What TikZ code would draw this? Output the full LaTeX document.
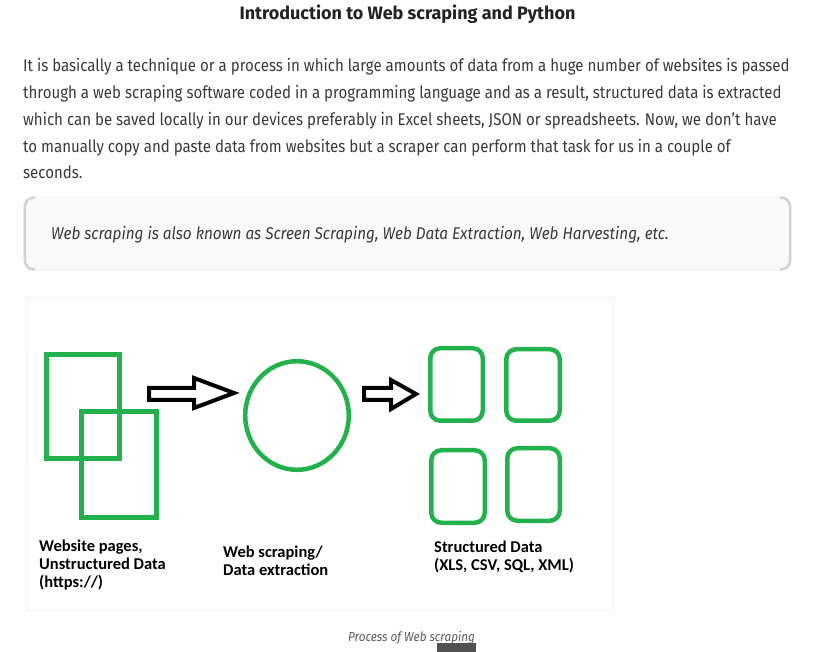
\documentclass[tikz,border=0pt]{standalone}
\usepackage{fontspec}
\setmainfont{Fira Sans}
\newfontfamily\bodyfont[FakeStretch=0.885]{Fira Sans}
\newfontfamily\quotefont[FakeStretch=0.9]{Fira Sans}
\newfontfamily\titlefont{Fira Sans}
\newfontfamily\labelfont{Carlito}
\definecolor{paintgreen}{HTML}{22B14C}
\definecolor{bodytext}{HTML}{3A3A3A}
\definecolor{titletext}{HTML}{222222}
\definecolor{quotefill}{HTML}{F9F9F9}
\definecolor{quoteborder}{HTML}{D2D2D2}
\definecolor{captiongray}{HTML}{5A5A5A}
\tikzset{
  bodyline/.style={anchor=base west, inner sep=0pt, text=bodytext, font=\bodyfont\fontsize{17}{20}\selectfont},
  greenbox/.style={draw=paintgreen, line width=4.5pt, inner sep=0pt},
  blockarrow/.style={draw=black, line width=4pt, line join=miter, miter limit=10, fill=white},
  lbl/.style={anchor=base west, inner sep=0pt, align=left, font=\labelfont\bfseries\fontsize{16.5}{18}\selectfont}
}
\begin{document}
\begin{tikzpicture}[x=1pt,y=-1pt]
\useasboundingbox (0,0) rectangle (820,652);
\fill[white] (0,0) rectangle (820,652);
% title
\node[anchor=base, inner sep=0pt, text=titletext, font=\titlefont\bfseries\fontsize{18}{20}\selectfont] (title) at (407.5,19.3) {Introduction to Web scraping and Python};
% paragraph
\node[bodyline] (l1) at (23,71.7) {It is basically a technique or a process in which large amounts of data from a huge number of websites is passed};
\node[bodyline] (l2) at (23,98.6) {through a web scraping software coded in a programming language and as a result, structured data is extracted};
\node[bodyline] (l3) at (23,125.4) {which can be saved locally in our devices preferably in Excel sheets, JSON or spreadsheets. Now, we don’t have};
\node[bodyline] (l4) at (23,152.2) {to manually copy and paste data from websites but a scraper can perform that task for us in a couple of};
\node[bodyline] (l5) at (23,179) {seconds.};
% blockquote
\draw[fill=quotefill, draw=black!7, rounded corners=12pt] (23.5,196.5) rectangle (791.5,270.5);
\draw[quoteborder, line width=2.5pt] (35,197.5) .. controls (28,197.5) and (24.8,201) .. (24.8,209) -- (24.8,258) .. controls (24.8,266) and (28,269.5) .. (35,269.5);
\draw[quoteborder, line width=2.5pt] (780,197.5) .. controls (787,197.5) and (790.2,201) .. (790.2,209) -- (790.2,258) .. controls (790.2,266) and (787,269.5) .. (780,269.5);
\node[anchor=base west, inner sep=0pt, text=bodytext, font=\quotefont\itshape\fontsize{17}{20}\selectfont] (quote) at (51,240) {Web scraping is also known as Screen Scraping, Web Data Extraction, Web Harvesting, etc.};
% diagram panel
\draw[draw=black!6, fill=white] (27,297.5) rectangle (613,610.5);
% unstructured pages
\node[greenbox, minimum width=73pt, minimum height=104pt] (page1) at (83,406.5) {};
\node[greenbox, minimum width=75pt, minimum height=106pt] (page2) at (119,464.5) {};
% arrows
\draw[blockarrow] (149,388) -- (194,388) -- (194,378) -- (234,393) -- (194,408) -- (194,400) -- (149,400) -- cycle;
\coordinate (a1tip) at (234,393);
% scraping ellipse
\draw[draw=paintgreen, line width=4.5pt] (297,415.5) ellipse [x radius=51.8pt, y radius=54.3pt];
\coordinate (scraper) at (297,415.5);
\draw[blockarrow] (364,388) -- (391,388) -- (391,380) -- (416,394) -- (391,409) -- (391,400) -- (364,400) -- cycle;
% structured data
\node[greenbox, rounded corners=10pt, minimum width=52.5pt, minimum height=72.5pt] (d1) at (456.5,384.5) {};
\node[greenbox, rounded corners=10pt, minimum width=53.5pt, minimum height=71.5pt] (d2) at (533,385) {};
\node[greenbox, rounded corners=10pt, minimum width=53.5pt, minimum height=72.5pt] (d3) at (458,486.5) {};
\node[greenbox, rounded corners=10pt, minimum width=52.5pt, minimum height=72.5pt] (d4) at (533.5,484.5) {};
% labels (anchor = baseline of last line)
\node[lbl] (lab1) at (39,587.7) {Website pages,\\Unstructured Data\\(https://)};
\node[lbl] (lab2) at (223,575) {Web scraping/\\Data extraction};
\node[lbl] (lab3) at (434,570.7) {Structured Data\\(XLS, CSV, SQL, XML)};
% caption
\node[anchor=base west, inner sep=0pt, text=captiongray, font=\quotefont\itshape\fontsize{13}{15}\selectfont] (caption) at (348,641) {Process of Web scraping};
\fill[black!68] (437,643) rectangle (476,652);
\end{tikzpicture}
\end{document}
